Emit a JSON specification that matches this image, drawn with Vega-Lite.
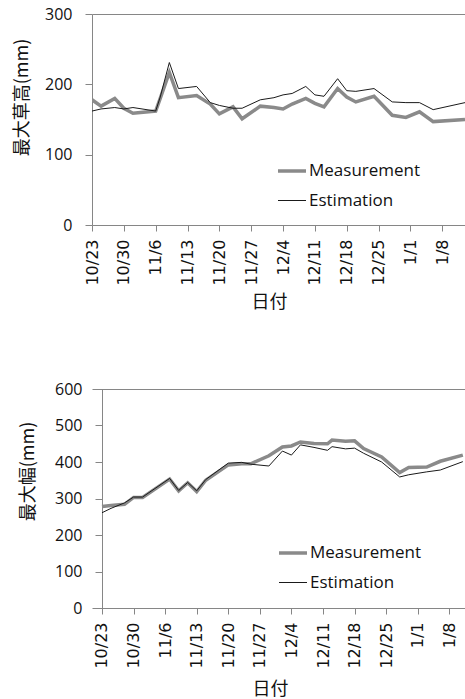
{
  "$schema": "https://vega.github.io/schema/vega-lite/v6.json",
  "background": "white",
  "padding": {"left": 13, "top": 6, "right": 0, "bottom": 0},
  "spacing": 69,
  "columns": 1,
  "resolve": {"scale": {"color": "independent", "strokeWidth": "independent"}, "legend": {"color": "independent", "strokeWidth": "independent"}},
  "config": {
    "view": {"stroke": null},
    "font": "Open Sans",
    "axis": {"domainColor": "#868686", "tickColor": "#868686", "labelColor": "#111111", "titleColor": "#111111", "grid": false, "domainWidth": 1, "tickWidth": 1}
  },
  "concat": [
    {
      "width": 373,
      "height": 211,
      "data": {"values": [
        {"date": "2012-10-23", "Measurement": 178, "Estimation": 162},
        {"date": "2012-10-25", "Measurement": 169, "Estimation": 165},
        {"date": "2012-10-28", "Measurement": 180, "Estimation": 167},
        {"date": "2012-10-30", "Measurement": 166, "Estimation": 165},
        {"date": "2012-11-01", "Measurement": 159, "Estimation": 167},
        {"date": "2012-11-06", "Measurement": 162, "Estimation": 162},
        {"date": "2012-11-07", "Measurement": 180, "Estimation": 182},
        {"date": "2012-11-09", "Measurement": 217, "Estimation": 231},
        {"date": "2012-11-11", "Measurement": 181, "Estimation": 194},
        {"date": "2012-11-15", "Measurement": 184, "Estimation": 197},
        {"date": "2012-11-18", "Measurement": 172, "Estimation": 174},
        {"date": "2012-11-20", "Measurement": 158, "Estimation": 170},
        {"date": "2012-11-23", "Measurement": 168, "Estimation": 166},
        {"date": "2012-11-25", "Measurement": 151, "Estimation": 166},
        {"date": "2012-11-29", "Measurement": 169, "Estimation": 178},
        {"date": "2012-12-02", "Measurement": 167, "Estimation": 181},
        {"date": "2012-12-04", "Measurement": 165, "Estimation": 185},
        {"date": "2012-12-06", "Measurement": 172, "Estimation": 187},
        {"date": "2012-12-09", "Measurement": 180, "Estimation": 197},
        {"date": "2012-12-11", "Measurement": 173, "Estimation": 185},
        {"date": "2012-12-13", "Measurement": 168, "Estimation": 183},
        {"date": "2012-12-16", "Measurement": 194, "Estimation": 208},
        {"date": "2012-12-18", "Measurement": 182, "Estimation": 191},
        {"date": "2012-12-20", "Measurement": 175, "Estimation": 190},
        {"date": "2012-12-24", "Measurement": 183, "Estimation": 194},
        {"date": "2012-12-28", "Measurement": 156, "Estimation": 175},
        {"date": "2012-12-31", "Measurement": 153, "Estimation": 174},
        {"date": "2013-01-03", "Measurement": 161, "Estimation": 174},
        {"date": "2013-01-06", "Measurement": 147, "Estimation": 164},
        {"date": "2013-01-13", "Measurement": 150, "Estimation": 174}
      ]},
      "transform": [{"fold": ["Measurement", "Estimation"], "as": ["series", "value"]}],
      "mark": {"type": "line", "clip": true},
      "encoding": {
        "x": {
          "field": "date", "type": "temporal",
          "scale": {"type": "utc", "domain": [{"year": 2012, "month": 10, "date": 23, "utc": true}, {"year": 2013, "month": 1, "date": 13, "utc": true}]},
          "axis": {
            "values": [
              {"year": 2012, "month": 10, "date": 23, "utc": true},
              {"year": 2012, "month": 10, "date": 30, "utc": true},
              {"year": 2012, "month": 11, "date": 6, "utc": true},
              {"year": 2012, "month": 11, "date": 13, "utc": true},
              {"year": 2012, "month": 11, "date": 20, "utc": true},
              {"year": 2012, "month": 11, "date": 27, "utc": true},
              {"year": 2012, "month": 12, "date": 4, "utc": true},
              {"year": 2012, "month": 12, "date": 11, "utc": true},
              {"year": 2012, "month": 12, "date": 18, "utc": true},
              {"year": 2012, "month": 12, "date": 25, "utc": true},
              {"year": 2013, "month": 1, "date": 1, "utc": true},
              {"year": 2013, "month": 1, "date": 8, "utc": true}
            ],
            "format": "%-m/%-d",
            "labelAngle": -90,
            "labelFlush": false,
            "labelOverlap": false,
            "labelFont": "DejaVu Sans",
            "labelFontSize": 16,
            "tickSize": 6,
            "labelPadding": 8,
            "title": "日付",
            "titleFont": "Noto Sans CJK JP",
            "titleFontSize": 18,
            "titleFontWeight": "normal",
            "titlePadding": 8,
            "titleX": 177
          }
        },
        "y": {
          "field": "value", "type": "quantitative",
          "scale": {"domain": [0, 300]},
          "axis": {
            "values": [0, 100, 200, 300],
            "title": "最大草高(mm)",
            "labelFont": "Open Sans",
            "labelFontSize": 16,
            "labelPadding": 13,
            "tickSize": 7,
            "titlePadding": 13,
            "titleY": 83,
            "titleFont": "Noto Sans CJK JP",
            "titleFontSize": 18,
            "titleFontWeight": "normal",
            "grid": true,
            "gridColor": "#868686",
            "gridOpacity": {"condition": {"test": "datum.value === 300", "value": 1}, "value": 0}
          }
        },
        "color": {
          "field": "series", "type": "nominal",
          "scale": {"domain": ["Measurement", "Estimation"], "range": ["#8a8a8a", "#1a1a1a"]},
          "legend": {"orient": "none", "legendX": 184, "legendY": 141, "title": null, "symbolType": "stroke", "symbolSize": 784, "labelFont": "Open Sans", "labelFontSize": 17, "labelColor": "#111111", "labelOffset": 1, "rowPadding": 7, "padding": 0}
        },
        "strokeWidth": {
          "field": "series", "type": "nominal",
          "scale": {"domain": ["Measurement", "Estimation"], "range": [3.5, 1]},
          "legend": {"orient": "none", "legendX": 184, "legendY": 141, "title": null, "symbolType": "stroke", "symbolSize": 784, "labelFont": "Open Sans", "labelFontSize": 17, "labelColor": "#111111", "labelOffset": 1, "rowPadding": 7, "padding": 0}
        }
      }
    },
    {
      "width": 373,
      "height": 219,
      "data": {"values": [
        {"date": "2012-10-23", "Measurement": 278, "Estimation": 261},
        {"date": "2012-10-25", "Measurement": 281, "Estimation": 273},
        {"date": "2012-10-28", "Measurement": 284, "Estimation": 288},
        {"date": "2012-10-30", "Measurement": 303, "Estimation": 304},
        {"date": "2012-11-01", "Measurement": 303, "Estimation": 304},
        {"date": "2012-11-07", "Measurement": 353, "Estimation": 355},
        {"date": "2012-11-09", "Measurement": 321, "Estimation": 322},
        {"date": "2012-11-11", "Measurement": 343, "Estimation": 344},
        {"date": "2012-11-13", "Measurement": 319, "Estimation": 321},
        {"date": "2012-11-15", "Measurement": 350, "Estimation": 352},
        {"date": "2012-11-20", "Measurement": 392, "Estimation": 397},
        {"date": "2012-11-23", "Measurement": 395, "Estimation": 399},
        {"date": "2012-11-25", "Measurement": 395, "Estimation": 394},
        {"date": "2012-11-29", "Measurement": 417, "Estimation": 389},
        {"date": "2012-12-02", "Measurement": 441, "Estimation": 430},
        {"date": "2012-12-04", "Measurement": 444, "Estimation": 419},
        {"date": "2012-12-06", "Measurement": 455, "Estimation": 447},
        {"date": "2012-12-09", "Measurement": 451, "Estimation": 440},
        {"date": "2012-12-12", "Measurement": 450, "Estimation": 432},
        {"date": "2012-12-13", "Measurement": 460, "Estimation": 442},
        {"date": "2012-12-16", "Measurement": 457, "Estimation": 436},
        {"date": "2012-12-18", "Measurement": 458, "Estimation": 438},
        {"date": "2012-12-20", "Measurement": 437, "Estimation": 424},
        {"date": "2012-12-24", "Measurement": 414, "Estimation": 400},
        {"date": "2012-12-28", "Measurement": 371, "Estimation": 359},
        {"date": "2012-12-30", "Measurement": 385, "Estimation": 365},
        {"date": "2013-01-03", "Measurement": 386, "Estimation": 373},
        {"date": "2013-01-06", "Measurement": 402, "Estimation": 378},
        {"date": "2013-01-11", "Measurement": 419, "Estimation": 401}
      ]},
      "transform": [{"fold": ["Measurement", "Estimation"], "as": ["series", "value"]}],
      "mark": {"type": "line", "clip": true},
      "encoding": {
        "x": {
          "field": "date", "type": "temporal",
          "scale": {"type": "utc", "domain": [{"year": 2012, "month": 10, "date": 20, "hours": 18, "minutes": 50, "utc": true}, {"year": 2013, "month": 1, "date": 11, "hours": 11, "minutes": 30, "utc": true}]},
          "axis": {
            "values": [
              {"year": 2012, "month": 10, "date": 23, "utc": true},
              {"year": 2012, "month": 10, "date": 30, "utc": true},
              {"year": 2012, "month": 11, "date": 6, "utc": true},
              {"year": 2012, "month": 11, "date": 13, "utc": true},
              {"year": 2012, "month": 11, "date": 20, "utc": true},
              {"year": 2012, "month": 11, "date": 27, "utc": true},
              {"year": 2012, "month": 12, "date": 4, "utc": true},
              {"year": 2012, "month": 12, "date": 11, "utc": true},
              {"year": 2012, "month": 12, "date": 18, "utc": true},
              {"year": 2012, "month": 12, "date": 25, "utc": true},
              {"year": 2013, "month": 1, "date": 1, "utc": true},
              {"year": 2013, "month": 1, "date": 8, "utc": true}
            ],
            "format": "%-m/%-d",
            "labelAngle": -90,
            "labelFlush": false,
            "labelOverlap": false,
            "labelFont": "DejaVu Sans",
            "labelFontSize": 16,
            "tickSize": 6,
            "labelPadding": 8,
            "title": "日付",
            "titleFont": "Noto Sans CJK JP",
            "titleFontSize": 18,
            "titleFontWeight": "normal",
            "titlePadding": 12,
            "titleX": 178
          }
        },
        "y": {
          "field": "value", "type": "quantitative",
          "scale": {"domain": [0, 600]},
          "axis": {
            "values": [0, 100, 200, 300, 400, 500, 600],
            "title": "最大幅(mm)",
            "offset": -10,
            "labelFont": "Open Sans",
            "labelFontSize": 16,
            "labelPadding": 13,
            "tickSize": 7,
            "titlePadding": 17,
            "titleY": 82,
            "titleFont": "Noto Sans CJK JP",
            "titleFontSize": 18,
            "titleFontWeight": "normal",
            "grid": true,
            "gridColor": "#868686",
            "gridOpacity": {"condition": {"test": "datum.value === 600", "value": 1}, "value": 0}
          }
        },
        "color": {
          "field": "series", "type": "nominal",
          "scale": {"domain": ["Measurement", "Estimation"], "range": ["#8a8a8a", "#1a1a1a"]},
          "legend": {"orient": "none", "legendX": 185, "legendY": 148, "title": null, "symbolType": "stroke", "symbolSize": 784, "labelFont": "Open Sans", "labelFontSize": 17, "labelColor": "#111111", "labelOffset": 1, "rowPadding": 7, "padding": 0}
        },
        "strokeWidth": {
          "field": "series", "type": "nominal",
          "scale": {"domain": ["Measurement", "Estimation"], "range": [3.5, 1]},
          "legend": {"orient": "none", "legendX": 185, "legendY": 148, "title": null, "symbolType": "stroke", "symbolSize": 784, "labelFont": "Open Sans", "labelFontSize": 17, "labelColor": "#111111", "labelOffset": 1, "rowPadding": 7, "padding": 0}
        }
      }
    }
  ]
}
